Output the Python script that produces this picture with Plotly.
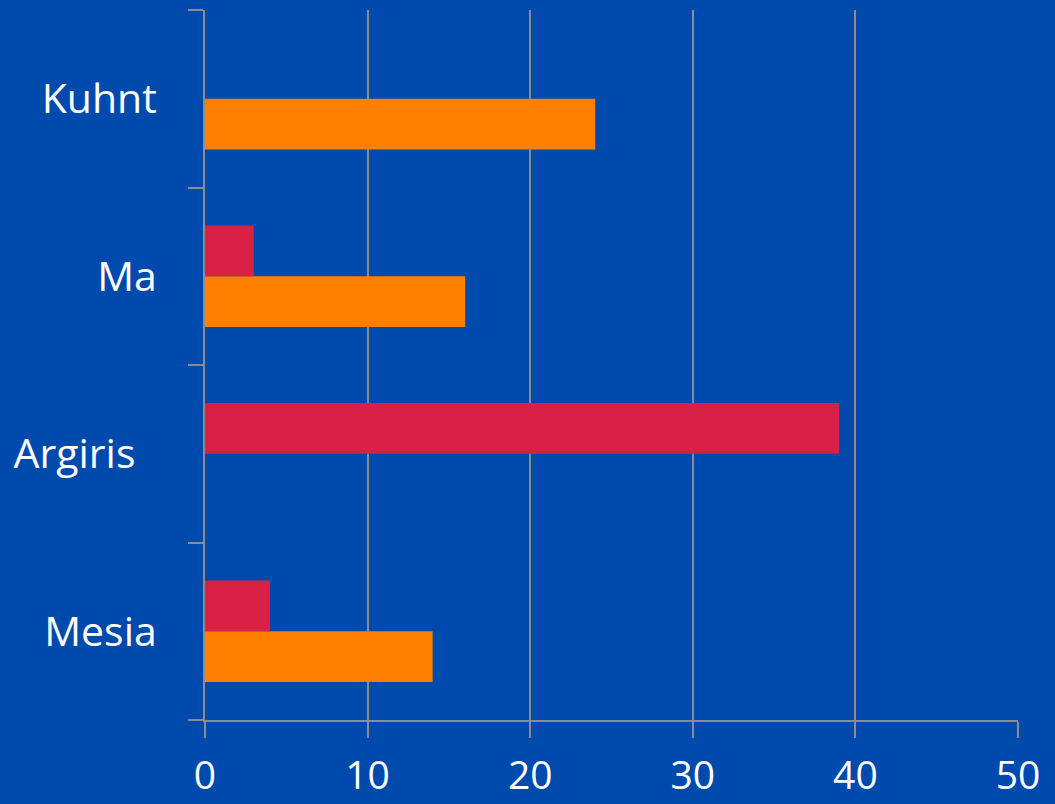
import plotly.graph_objects as go

# Categories listed bottom to top
categories = ["Mesia", "Argiris", "Ma", "Kuhnt"]
tick_text = ["Mesia", "Argiris\u00a0\u00a0", "Ma", "Kuhnt"]
orange_values = [14, 0, 16, 24]
red_values = [4, 39, 3, 0]
x_ticks = [0, 10, 20, 30, 40, 50]

BG = "#004AAD"
GRID = "#8C8C8C"

fig = go.Figure()
fig.add_trace(go.Bar(y=categories, x=orange_values, orientation="h",
                     marker=dict(color="#FF7F00", line=dict(width=0)),
                     name="orange", showlegend=False))
fig.add_trace(go.Bar(y=categories, x=red_values, orientation="h",
                     marker=dict(color="#D92046", line=dict(width=0)),
                     name="red", showlegend=False))

fig.update_layout(
    width=1055, height=804,
    margin=dict(l=205, r=37, t=10, b=84),
    paper_bgcolor=BG, plot_bgcolor=BG,
    barmode="group", bargap=0.427, bargroupgap=0,
    font=dict(family="Open Sans", color="white", size=41),
)
fig.update_xaxes(
    range=[0, 50], tickvals=x_ticks, ticktext=[str(v) for v in x_ticks],
    showgrid=True, gridcolor=GRID, gridwidth=1.5,
    zeroline=False, showline=True, linecolor=GRID, linewidth=2,
    ticks="outside", ticklen=16, tickcolor=GRID, tickwidth=2,
    tickfont=dict(size=39), ticklabelstandoff=4, automargin=False,
)
fig.update_yaxes(
    type="category", categoryorder="array", categoryarray=categories,
    tickvals=categories, ticktext=tick_text,
    showgrid=False, zeroline=False, showline=True, linecolor=GRID, linewidth=2,
    ticks="outside", tickson="boundaries", ticklen=15, tickcolor=GRID, tickwidth=2,
    tickfont=dict(size=41), ticklabelstandoff=38, automargin=False,
)

fig.write_html("out.html")
